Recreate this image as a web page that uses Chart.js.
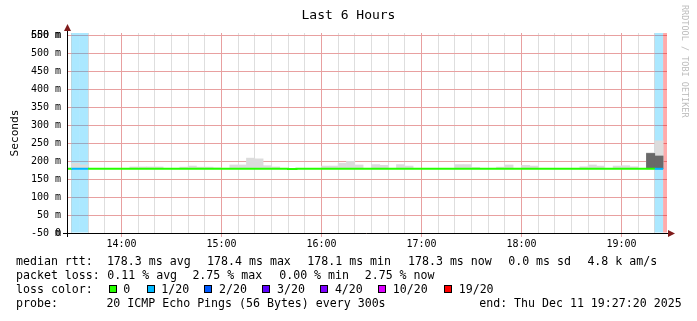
<!DOCTYPE html>
<html>
<head>
<meta charset="utf-8">
<script src="https://cdn.jsdelivr.net/npm/chart.js@4.4.1/dist/chart.umd.min.js"></script>
<style>
body { margin: 0; background: #fff; }
#wrap { position: relative; width: 697px; height: 321px; font-family: 'DejaVu Sans Mono', monospace; color: #000; overflow: hidden; }
#c { position: absolute; left: 0; top: 0; }
#title { position: absolute; left: 0; top: 7px; width: 697px; text-align: center; font-size: 13px; line-height: 16px; }
#mark { position: absolute; left: 690px; top: 5px; transform-origin: 0 0; transform: rotate(90deg); white-space: nowrap; font-size: 8.5px; line-height: 10px; color: #bdbdbd; }
.txt { position: absolute; white-space: pre; font-size: 11.6px; line-height: 14px; }
.box { position: absolute; width: 6px; height: 6px; border: 1px solid #000; }
</style>
</head>
<body>
<div id="wrap">
  <canvas id="c" width="697" height="321"></canvas>
  <div id="title">Last 6 Hours</div>
  <div id="mark">RRDTOOL / TOBI OETIKER</div>
</div>
<script>
// 5 minute slots, median rtt (ms), lost pings out of 20, smoke tops (ms)
const slotTimes = [
  '13:25','13:30','13:35','13:40','13:45','13:50','13:55','14:00','14:05','14:10','14:15','14:20',
  '14:25','14:30','14:35','14:40','14:45','14:50','14:55','15:00','15:05','15:10','15:15','15:20',
  '15:25','15:30','15:35','15:40','15:45','15:50','15:55','16:00','16:05','16:10','16:15','16:20',
  '16:25','16:30','16:35','16:40','16:45','16:50','16:55','17:00','17:05','17:10','17:15','17:20',
  '17:25','17:30','17:35','17:40','17:45','17:50','17:55','18:00','18:05','18:10','18:15','18:20',
  '18:25','18:30','18:35','18:40','18:45','18:50','18:55','19:00','19:05','19:10','19:15','19:20',
  '19:25'
];
const medianMs = [
  178.3, 178.4, 178.3, 178.2, 178.3, 178.3, 178.2, 178.3, 178.3, 178.3, 178.3, 178.4,
  178.3, 178.2, 178.3, 178.3, 178.3, 178.3, 178.3, 178.2, 178.3, 178.3, 178.4, 178.4,
  178.3, 178.3, 178.2, 178.1, 178.2, 178.3, 178.3, 178.3, 178.3, 178.3, 178.4, 178.3,
  178.3, 178.3, 178.3, 178.2, 178.3, 178.3, 178.2, 178.2, 178.3, 178.3, 178.3, 178.3,
  178.3, 178.3, 178.2, 178.2, 178.3, 178.3, 178.3, 178.2, 178.3, 178.3, 178.2, 178.2,
  178.3, 178.2, 178.3, 178.3, 178.3, 178.2, 178.3, 178.3, 178.3, 178.2, 178.4, 178.3,
  null
];
const lossCount = [
  0, 1, 1, 0, 0, 0, 0, 0, 0, 0, 0, 0,
  0, 0, 0, 0, 0, 0, 0, 0, 0, 0, 0, 0,
  0, 0, 0, 0, 0, 0, 0, 0, 0, 0, 0, 0,
  0, 0, 0, 0, 0, 0, 0, 0, 0, 0, 0, 0,
  0, 0, 0, 0, 0, 0, 0, 0, 0, 0, 0, 0,
  0, 0, 0, 0, 0, 0, 0, 0, 0, 0, 0, 1,
  19
];
const smokeLightMs = [
  null, 194, 189, null, null, null, null, null, 183.5, 183.5, 183.5, 183.5,
  null, null, 183, 186, 183, 183, 181, null, 189, 189, 208, 206,
  187, 183.5, null, null, null, null, null, 186, 186, 194, 199, 189,
  null, 190, 188, null, 190, 186, null, null, null, null, null, 190,
  190, 182, null, null, 183, 189, null, 188, 186, null, null, null,
  null, null, 184, 189, 186, null, 186, 187, 184, null, 223, 256,
  null
];
const smokeDarkMs = [
  null, null, null, null, null, null, null, null, null, null, null, null,
  null, null, null, null, null, null, null, null, null, null, null, null,
  null, null, null, null, null, null, null, null, null, null, null, null,
  null, null, null, null, null, null, null, null, null, null, null, null,
  null, null, null, null, null, null, null, null, null, null, null, null,
  null, null, null, null, null, null, null, null, null, null, 221, 214,
  null
];

const windowStart = '13:27:20';
const windowEnd = '19:27:20';
const slotMinutes = 5;
const hourLabels = ['14:00', '15:00', '16:00', '17:00', '18:00', '19:00'];
const yTickValues = [0, 0, 50, 100, 150, 200, 250, 300, 350, 400, 450, 500, 550, 550];
const yTickLabels = ['0', '-50 m', '50 m', '100 m', '150 m', '200 m', '250 m', '300 m', '350 m', '400 m', '450 m', '500 m', '550 m', '600 m'];
const yMax = 555.6;

const lossSteps = [0, 1, 2, 3, 4, 10, 19];
const lossLabels = ['0', '1/20', '2/20', '3/20', '4/20', '10/20', '19/20'];
const lossColors = ['#26ff00', '#00b8ff', '#0059ff', '#5e00ff', '#7e00ff', '#dd00ff', '#ff0000'];

const rttStats = ['178.3 ms avg', '178.4 ms max', '178.1 ms min', '178.3 ms now', '0.0 ms sd', '4.8 k am/s'];
const lossStats = ['0.11 % avg', '2.75 % max', '0.00 % min', '2.75 % now'];
const probeText = '20 ICMP Echo Pings (56 Bytes) every 300s';
const endText = 'end: Thu Dec 11 19:27:20 2025';

function toMin(s) {
  const p = s.split(':').map(Number);
  return p[0] * 60 + p[1] + (p[2] || 0) / 60;
}
function lossColor(n) {
  let c = lossColors[0];
  lossSteps.forEach((s, i) => { if (n >= s) c = lossColors[i]; });
  return c;
}
function withAlpha(hex, a) {
  const v = parseInt(hex.slice(1), 16);
  return 'rgba(' + (v >> 16) + ',' + ((v >> 8) & 255) + ',' + (v & 255) + ',' + a + ')';
}

// datasets
const medianLine = [];
slotTimes.forEach((t, i) => {
  if (medianMs[i] != null) medianLine.push({x: toMin(t), y: medianMs[i]});
});
const lastMed = medianLine[medianLine.length - 1];
medianLine.push({x: lastMed.x + slotMinutes, y: lastMed.y});

const mid = t => toMin(t) + slotMinutes / 2;
const bandBars = slotTimes.map((t, i) => ({x: mid(t), y: lossCount[i] > 0 ? [0, yMax] : null}));
const lightBars = slotTimes.map((t, i) => ({x: mid(t), y: (smokeLightMs[i] != null && medianMs[i] != null) ? [medianMs[i], smokeLightMs[i]] : null}));
const darkBars = slotTimes.map((t, i) => ({x: mid(t), y: (smokeDarkMs[i] != null && medianMs[i] != null) ? [medianMs[i], smokeDarkMs[i]] : null}));

const axisArrows = {
  id: 'axisArrows',
  afterDatasetsDraw(chart) {
    const {ctx, chartArea: a} = chart;
    const yb = a.bottom + 0.5, xl = a.left + 0.5;
    ctx.save();
    ctx.strokeStyle = '#000';
    ctx.lineWidth = 1;
    ctx.beginPath();
    ctx.moveTo(a.left - 4, yb); ctx.lineTo(a.right + 3, yb);
    ctx.moveTo(xl, a.bottom + 4); ctx.lineTo(xl, a.top - 3);
    ctx.stroke();
    ctx.fillStyle = '#7f1a1a';
    ctx.beginPath();
    ctx.moveTo(a.right + 1, yb - 3.5); ctx.lineTo(a.right + 8, yb); ctx.lineTo(a.right + 1, yb + 3.5);
    ctx.fill();
    ctx.beginPath();
    ctx.moveTo(xl - 3.5, a.top - 2); ctx.lineTo(xl, a.top - 9); ctx.lineTo(xl + 3.5, a.top - 2);
    ctx.fill();
    ctx.restore();
  }
};

const tickFont = {family: 'DejaVu Sans Mono', size: 10};
const majorGrid = '#e8a0a0';
const minorGrid = '#dedede';

new Chart('c', {
  type: 'bar',
  data: {
    datasets: [{
      type: 'line',
      label: 'median rtt',
      data: medianLine,
      stepped: 'before',
      borderWidth: 2,
      pointRadius: 0,
      clip: 0,
      borderColor: lossColors[0],
      segment: {borderColor: ctx => lossColor(lossCount[ctx.p0DataIndex])},
      order: 0
    }, {
      label: 'smoke dark',
      data: darkBars,
      backgroundColor: '#696969',
      grouped: false,
      barPercentage: 1,
      categoryPercentage: 1,
      order: 1
    }, {
      label: 'smoke',
      data: lightBars,
      backgroundColor: '#dcdcdc',
      grouped: false,
      barPercentage: 1,
      categoryPercentage: 1,
      order: 2
    }, {
      label: 'loss',
      data: bandBars,
      backgroundColor: ctx => withAlpha(lossColor(lossCount[ctx.dataIndex]), 0.33),
      grouped: false,
      barPercentage: 1,
      categoryPercentage: 1,
      inflateAmount: 0,
      order: 3
    }]
  },
  options: {
    responsive: false,
    devicePixelRatio: 1,
    animation: false,
    layout: {padding: {top: 33, right: 30, bottom: 68, left: 0}},
    plugins: {legend: {display: false}, tooltip: {enabled: false}, title: {display: false}},
    scales: {
      x: {
        type: 'linear',
        min: toMin(windowStart),
        max: toMin(windowEnd),
        offset: false,
        afterFit: s => { s.height = 20; },
        afterBuildTicks: s => {
          const ticks = [];
          for (let m = Math.ceil(s.min / 10) * 10; m <= s.max; m += 10) ticks.push({value: m});
          s.ticks = ticks;
        },
        ticks: {
          autoSkip: false, maxRotation: 0, padding: 1, color: '#000', font: tickFont,
          callback: v => hourLabels.find(h => toMin(h) === v) || ''
        },
        grid: {
          offset: false,
          tickLength: 4,
          color: ctx => (ctx.tick && ctx.tick.value % 60 === 0) ? majorGrid : minorGrid,
          tickColor: ctx => (ctx.tick && ctx.tick.value % 60 === 0) ? majorGrid : 'rgba(0,0,0,0)'
        },
        border: {display: false}
      },
      y: {
        min: 0,
        max: yMax,
        afterFit: s => { s.width = 67; },
        afterBuildTicks: s => { s.ticks = yTickValues.map(v => ({value: v})); },
        ticks: {
          autoSkip: false, padding: 2, color: '#000', font: tickFont,
          callback: (v, i) => yTickLabels[i]
        },
        grid: {color: majorGrid, tickLength: 4, tickColor: 'rgba(0,0,0,0)'},
        border: {display: false},
        title: {
          display: true, text: 'Seconds', color: '#000',
          font: {family: 'DejaVu Sans Mono', size: 11.2},
          padding: {top: 8, bottom: 0}
        }
      }
    }
  },
  plugins: [axisArrows]
});

// legend text under the graph
const wrap = document.getElementById('wrap');
const rowY = [261, 275, 289, 303];
function put(text, x, y) {
  const d = document.createElement('div');
  d.className = 'txt';
  d.textContent = text;
  d.style.left = x + 'px';
  d.style.top = (y - 7) + 'px';
  wrap.appendChild(d);
}
put('median rtt:', 16, rowY[0]);
[106.9, 207.1, 307.3, 408, 508.2, 587.4].forEach((x, i) => put(rttStats[i], x, rowY[0]));
put('packet loss:', 16, rowY[1]);
[107.3, 192.4, 279.2, 364.7].forEach((x, i) => put(lossStats[i], x, rowY[1]));
put('loss color:', 16, rowY[2]);
[108.6, 146.5, 204.4, 262.3, 320.2, 378.1, 444].forEach((x, i) => {
  const b = document.createElement('div');
  b.className = 'box';
  b.style.left = Math.round(x) + 'px';
  b.style.top = (rowY[2] - 4) + 'px';
  b.style.background = lossColors[i];
  wrap.appendChild(b);
  put(lossLabels[i], x + 14.7, rowY[2]);
});
put('probe:', 16, rowY[3]);
put(probeText, 106.4, rowY[3]);
put(endText, 479.2, rowY[3]);
</script>
</body>
</html>
